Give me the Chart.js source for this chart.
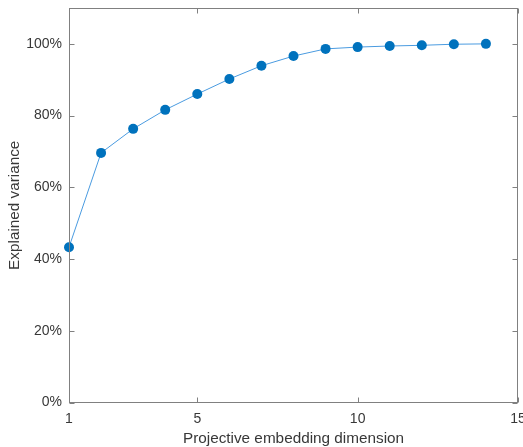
<!DOCTYPE html>
<html><head><meta charset="utf-8">
<script src="https://cdn.jsdelivr.net/npm/chart.js@4"></script>
<style>html,body{margin:0;padding:0;background:#fff}#wrap{width:523px;height:447px}</style>
</head><body><div id="wrap"><canvas id="c" width="523" height="447"></canvas></div>
<script>
const dimensions = [1,2,3,4,5,6,7,8,9,10,11,12,13,14];
const explainedVariance = [43.3,69.6,76.3,81.6,86.0,90.2,93.9,96.6,98.6,99.1,99.4,99.6,99.9,100];
const xTicks = [1,5,10,15];
const yTicks = [0,20,40,60,80,100];
const xTitle = 'Projective embedding dimension';
const yTitle = 'Explained variance';

const axisColor = '#808080';
const textColor = '#383838';
const font = 'Liberation Sans, Arial, Helvetica, sans-serif';

const boxPlugin = {
  id: 'box',
  afterDraw(chart) {
    const {ctx, chartArea: a, scales: {x, y}} = chart;
    ctx.save();
    ctx.strokeStyle = axisColor;
    ctx.lineWidth = 1;
    const L = Math.round(a.left) + 0.5, R = Math.round(a.right) - 0.5;
    const T = Math.round(a.top) + 0.5, B = Math.round(a.bottom) - 0.5;
    ctx.strokeRect(L, T, R - L, B - T);
    const tl = 5;
    ctx.beginPath();
    xTicks.forEach(v => {
      const px = Math.round(x.getPixelForValue(v)) + 0.5;
      ctx.moveTo(px, B); ctx.lineTo(px, B - tl);
      ctx.moveTo(px, T); ctx.lineTo(px, T + tl);
    });
    yTicks.forEach(v => {
      const py = Math.round(y.getPixelForValue(v)) + 0.5;
      ctx.moveTo(L, py); ctx.lineTo(L + tl, py);
      ctx.moveTo(R, py); ctx.lineTo(R - tl, py);
    });
    ctx.stroke();
    ctx.restore();
  }
};

new Chart(document.getElementById('c'), {
  type: 'line',
  data: {
    datasets: [{
      data: dimensions.map((d, i) => ({x: d, y: explainedVariance[i]})),
      borderColor: '#4a9be0',
      borderWidth: 1,
      backgroundColor: '#0072BD',
      pointBackgroundColor: '#0072BD',
      pointBorderColor: '#0072BD',
      pointRadius: 5,
      pointBorderWidth: 0,
      tension: 0,
      clip: false
    }]
  },
  options: {
    responsive: false,
    animation: false,
    layout: {padding: {left: 0, right: 5, top: 8, bottom: 0}},
    plugins: {legend: {display: false}, tooltip: {enabled: false}},
    scales: {
      x: {
        type: 'linear', min: 1, max: 15,
        afterBuildTicks(s) { s.ticks = xTicks.map(v => ({value: v})); },
        afterFit(s) { s.height = 44.5; s.paddingLeft = 0; s.paddingRight = 0; },
        grid: {display: false, drawTicks: false},
        border: {display: false},
        ticks: {color: textColor, font: {family: font, size: 14}, padding: 8, maxRotation: 0, autoSkip: false},
        title: {display: true, text: xTitle, color: textColor, font: {family: font, size: 15.3}, padding: {top: 0, bottom: -1}}
      },
      y: {
        type: 'linear', min: 0, max: 110,
        afterBuildTicks(s) { s.ticks = yTicks.map(v => ({value: v})); },
        afterFit(s) { s.width = 69; s.paddingTop = 0; s.paddingBottom = 0; },
        grid: {display: false, drawTicks: false},
        border: {display: false},
        ticks: {color: textColor, font: {family: font, size: 14}, padding: 7, callback: v => v + '%'},
        title: {display: true, text: yTitle, color: textColor, font: {family: font, size: 15.3}, padding: {top: 6, bottom: 0}}
      }
    }
  },
  plugins: [boxPlugin]
});
</script></body></html>
